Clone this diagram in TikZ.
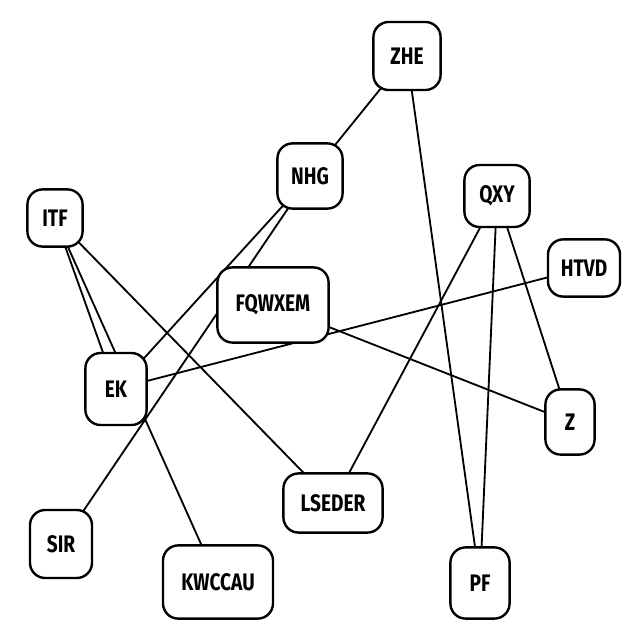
\documentclass[tikz,border=0pt]{standalone}
\usepackage{fontspec}
\setmainfont{Fira Sans}[FakeStretch=0.8]
\pgfdeclarelayer{bg}
\pgfsetlayers{bg,main}

\tikzset{
  box/.style={draw, fill=white, rounded corners=0.38cm, line width=1.7pt,
    font=\fontsize{17}{20}\selectfont\bfseries, inner sep=2pt},
  edge/.style={line width=1.3pt}
}

\begin{document}
\begin{tikzpicture}

\useasboundingbox (0,0) rectangle (16,16);

\node[box, minimum width=1.68cm, minimum height=1.7cm] (zhe) at (10.175,14.6) {ZHE};
\node[box, minimum width=1.63cm, minimum height=1.63cm] (nhg) at (7.75,11.6) {NHG};
\node[box, minimum width=1.63cm, minimum height=1.55cm] (qxy) at (12.425,11.1) {QXY};
\node[box, minimum width=1.8cm, minimum height=1.43cm] (htvd) at (14.6,9.3) {HTVD};
\node[box, minimum width=1.38cm, minimum height=1.43cm] (itf) at (1.375,10.55) {ITF};
\node[box, minimum width=2.78cm, minimum height=1.88cm] (fqwxem) at (6.825,8.375) {FQWXEM};
\node[box, minimum width=1.53cm, minimum height=1.8cm] (ek) at (2.9,6.275) {EK};
\node[box, minimum width=1.23cm, minimum height=1.63cm] (z) at (14.25,5.45) {Z};
\node[box, minimum width=2.48cm, minimum height=1.48cm] (lseder) at (8.325,3.425) {LSEDER};
\node[box, minimum width=1.55cm, minimum height=1.7cm] (sir) at (1.525,2.4) {SIR};
\node[box, minimum width=2.75cm, minimum height=1.83cm] (kwccau) at (5.45,1.45) {KWCCAU};
\node[box, minimum width=1.48cm, minimum height=1.78cm] (pf) at (12,1.425) {PF};

\begin{pgfonlayer}{bg}
\draw[edge] (zhe.center) -- (nhg.center);
\draw[edge] (zhe.center) -- (pf.center);
\draw[edge] (nhg.center) -- (ek.center);
\draw[edge] (nhg.center) -- (sir.center);
\draw[edge] (qxy.center) -- (lseder.center);
\draw[edge] (qxy.center) -- (pf.center);
\draw[edge] (qxy.center) -- (z.center);
\draw[edge] (itf.center) -- (ek.center);
\draw[edge] (itf.center) -- (kwccau.center);
\draw[edge] (itf.center) -- (lseder.center);
\draw[edge] (htvd.center) -- (ek.center);
\draw[edge] (fqwxem.center) -- (z.center);
\end{pgfonlayer}

\end{tikzpicture}
\end{document}
